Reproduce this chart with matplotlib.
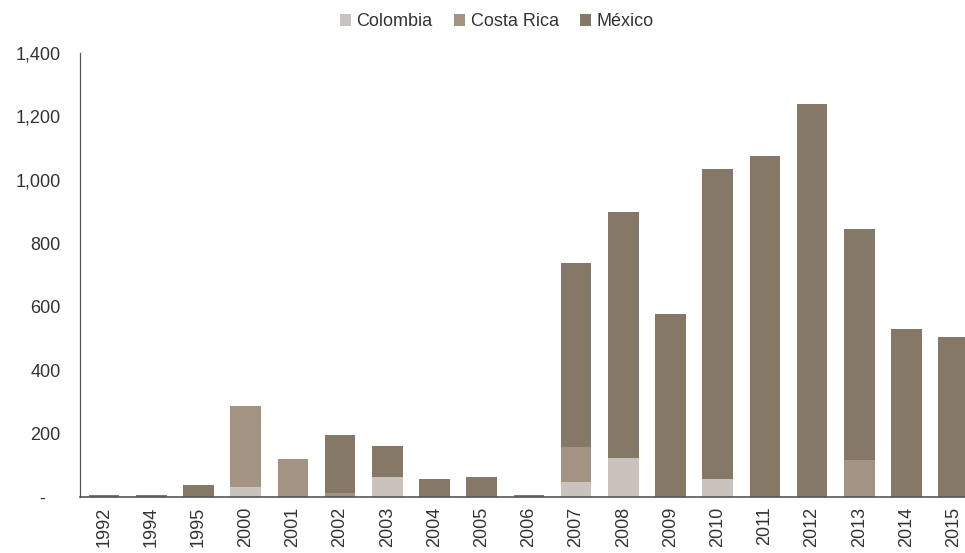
import matplotlib
matplotlib.use("Agg")
import matplotlib.pyplot as plt
import numpy as np

years = ["1992", "1994", "1995", "2000", "2001", "2002", "2003", "2004", "2005", "2006",
         "2007", "2008", "2009", "2010", "2011", "2012", "2013", "2014", "2015"]
colombia = [0, 0, 0, 31, 0, 0, 63, 0, 0, 0, 47, 123, 0, 58, 0, 0, 0, 0, 0]
costa_rica = [0, 0, 0, 256, 120, 13, 0, 0, 0, 0, 111, 0, 0, 0, 0, 0, 117, 0, 0]
mexico = [5, 5, 37, 0, 0, 184, 97, 56, 63, 5, 581, 775, 576, 977, 1076, 1240, 729, 530, 505]

c_col = "#cac2bc"
c_cr = "#a29382"
c_mx = "#857866"

plt.rcParams['font.family'] = ['Liberation Sans', 'DejaVu Sans']

fig = plt.figure(figsize=(9.65, 5.53), dpi=100)
ax = fig.add_axes([80/965, 1-497/553, 1-80/965, (497-53)/553])

x = np.arange(len(years))
col = np.array(colombia)
cr = np.array(costa_rica)
mx = np.array(mexico)
w = 0.65
ax.bar(x, col, w, color=c_col, label="Colombia", edgecolor="none")
ax.bar(x, cr, w, bottom=col, color=c_cr, label="Costa Rica", edgecolor="none")
ax.bar(x, mx, w, bottom=col + cr, color=c_mx, label="México", edgecolor="none")

ax.set_xlim(-0.51, 18.24)
ax.set_ylim(0, 1400)
ax.set_yticks(range(0, 1401, 200))
ax.set_yticklabels(["-   "] + [f"{v:,}" for v in range(200, 1401, 200)])
ax.set_xticks(x)
ax.set_xticklabels(years, rotation=90)
ax.tick_params(axis='both', length=0, labelsize=13, colors="#333333")
ax.tick_params(axis='y', pad=14)
ax.tick_params(axis='x', pad=7)
for s in ["top", "right"]:
    ax.spines[s].set_visible(False)
ax.spines["left"].set_color("#555555")
ax.spines["bottom"].set_color("#555555")
ax.spines["left"].set_linewidth(0.9)
ax.spines["bottom"].set_linewidth(1.2)

leg = fig.legend(loc="upper center", bbox_to_anchor=(0.515, 1.005), ncol=3, frameon=False,
                 fontsize=13, handlelength=0.6, handleheight=0.6, handletextpad=0.3,
                 columnspacing=1.2)
for t in leg.get_texts():
    t.set_color("#333333")

fig.savefig("out.png", dpi=100)
